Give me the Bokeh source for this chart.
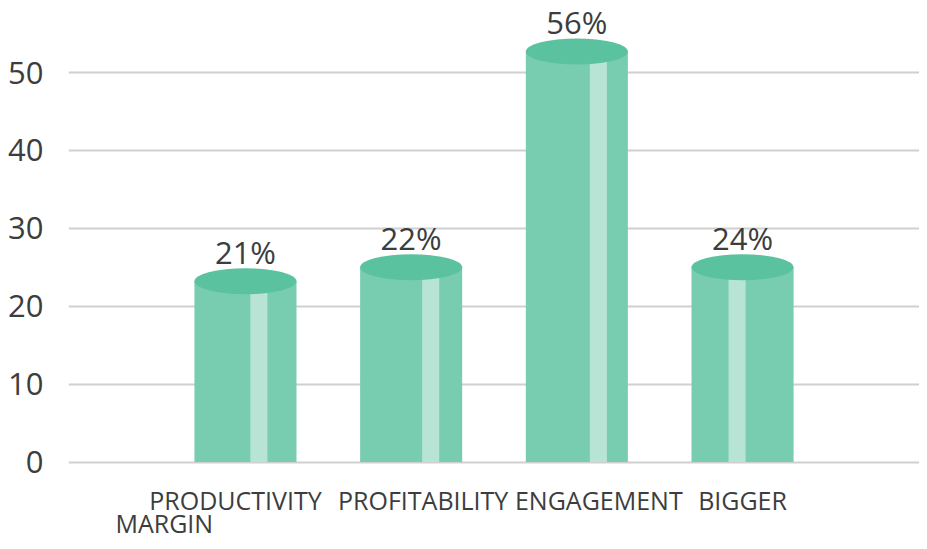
from bokeh.plotting import figure
from bokeh.models import ColumnDataSource, FactorRange, Range1d, FixedTicker
from bokeh.transform import dodge
from bokeh.core.properties import value
from bokeh.embed import file_html
from bokeh.resources import INLINE

# ---- data ----
categories = ["PRODUCTIVITY", "PROFITABILITY", "ENGAGEMENT", "BIGGER MARGIN"]
bar_values = [23.2, 25.0, 52.7, 25.0]
value_labels = ["21%", "22%", "56%", "24%"]
label_line1 = ["PRODUCTIVITY", "PROFITABILITY", "ENGAGEMENT", "BIGGER"]
label_wrap = ["MARGIN"]
y_ticks = [0, 10, 20, 30, 40, 50]

# ---- style ----
FONT = "Open Sans"
TEXT = "#3d3d3d"
BODY = "#78cdb0"
TOP = "#5bc2a0"
SHINE = "#b8e4d6"
GRID = "#d0d0d0"
label_dx = [-10, 12, 22, 0]                      # px nudges of category labels
shine_offsets = [0.081, 0.118, 0.130, -0.033]    # highlight stripe offsets (factor units)

W, H = 919, 541
FRAME_LEFT = 68
Y0_PX = 461.5          # pixel row of value 0
PX_PER_UNIT = 7.79
y_end = Y0_PX / PX_PER_UNIT
y_start = -(H - Y0_PX) / PX_PER_UNIT


def px(d):
    """screen pixels -> data units on the y axis"""
    return d / PX_PER_UNIT


src = ColumnDataSource(dict(cat=categories, val=bar_values, lab=value_labels,
                            lab_y=[v + px(29) for v in bar_values],
                            line1=label_line1, dx=label_dx))

p = figure(width=W, height=H,
           x_range=FactorRange(factors=categories, range_padding=0.284),
           y_range=Range1d(y_start, y_end),
           output_backend="svg", toolbar_location=None,
           min_border_left=FRAME_LEFT, min_border_right=0, min_border_top=0, min_border_bottom=0)

p.outline_line_color = None
p.background_fill_color = "white"
p.xgrid.grid_line_color = None
p.ygrid.grid_line_color = GRID
p.ygrid.grid_line_width = 2
p.ygrid.ticker = FixedTicker(ticks=y_ticks)

p.xaxis.visible = False
p.yaxis.ticker = FixedTicker(ticks=y_ticks)
p.yaxis.axis_line_color = None
p.yaxis.major_tick_line_color = None
p.yaxis.minor_tick_line_color = None
p.yaxis.major_label_standoff = 19
p.yaxis.major_label_text_font = FONT
p.yaxis.major_label_text_font_size = "31px"
p.yaxis.major_label_text_color = TEXT

BAR_W = 0.616

# cylinder bodies
p.vbar(x="cat", top="val", bottom=0, width=BAR_W, source=src,
       fill_color=BODY, line_color=None)

# highlight stripes
for i, cat in enumerate(categories):
    s = ColumnDataSource(dict(cat=[cat], val=[bar_values[i]]))
    p.vbar(x=dodge("cat", shine_offsets[i], range=p.x_range), top="val", bottom=0,
           width=0.103, source=s, fill_color=SHINE, line_color=None)

# cylinder tops
p.ellipse(x="cat", y="val", width=BAR_W, height=26, height_units="screen",
          source=src, fill_color=TOP, line_color=None)

# value labels
p.text(x="cat", y="lab_y", text="lab", source=src, text_align="center",
       text_baseline="alphabetic", text_font=value(FONT),
       text_font_size="31px", text_color=TEXT)

# category labels (flowing text below the baseline)
p.text(x="cat", y=-px(38), text="line1", x_offset="dx", source=src,
       text_align="center", text_baseline="alphabetic", text_font=value(FONT),
       text_font_size="25px", text_color=TEXT)
wrap_src = ColumnDataSource(dict(cat=[categories[0]], t=label_wrap))
p.text(x="cat", y=-px(61), text="t", x_offset=-130, source=wrap_src,
       text_align="left", text_baseline="alphabetic", text_font=value(FONT),
       text_font_size="25px", text_color=TEXT)

open("out.html", "w").write(file_html(p, INLINE))
